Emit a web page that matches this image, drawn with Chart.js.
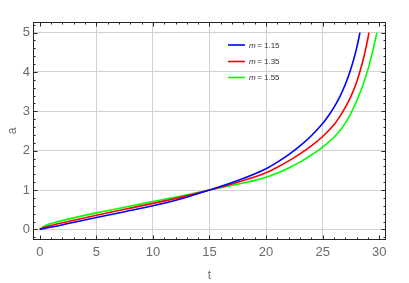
<!DOCTYPE html>
<html>
<head>
<meta charset="utf-8">
<script src="https://cdn.jsdelivr.net/npm/chart.js@4.4.1/dist/chart.umd.min.js"></script>
<style>
    html, body { margin: 0; padding: 0; background: #fff; }
    #wrap { width: 409px; height: 283px; position: relative; }
</style>
</head>
<body>
<div id="wrap"><canvas id="chart"></canvas></div>
<script>
// --- Data ---
const xTicks = [0, 5, 10, 15, 20, 25, 30];
const yTicks = [0, 1, 2, 3, 4, 5];

const t115 = [0, 0.5, 1.4, 2.5, 5, 7.5, 10, 12.5, 15, 17.5, 20, 21, 22, 23, 24, 25, 25.5, 26, 26.5, 27, 27.5, 28, 28.3];
const a115 = [0, 0.03, 0.08, 0.15, 0.30, 0.45, 0.60, 0.78, 1.0, 1.24, 1.54, 1.71, 1.9, 2.12, 2.38, 2.69, 2.88, 3.1, 3.36, 3.68, 4.08, 4.6, 5.0];

const t135 = [0, 0.5, 1.4, 2.5, 5, 7.5, 10, 12.5, 15, 17.5, 20, 21, 22, 23, 24, 25, 26, 26.5, 27, 27.5, 28, 28.5, 28.8, 29.1];
const a135 = [0, 0.06, 0.13, 0.2, 0.36, 0.51, 0.66, 0.82, 1.0, 1.2, 1.44, 1.58, 1.74, 1.92, 2.12, 2.36, 2.66, 2.86, 3.1, 3.38, 3.74, 4.22, 4.58, 5.0];

const t155 = [0, 0.5, 1.4, 2.5, 5, 7.5, 10, 12.5, 15, 16.5, 18, 19, 20, 21, 22, 23, 24, 25, 26, 26.5, 27, 27.5, 28, 28.5, 29, 29.4, 29.8];
const a155 = [0, 0.1, 0.18, 0.26, 0.42, 0.56, 0.71, 0.85, 1.0, 1.09, 1.18, 1.245, 1.325, 1.43, 1.56, 1.71, 1.89, 2.09, 2.34, 2.5, 2.7, 2.95, 3.26, 3.62, 4.06, 4.5, 5.0];

const seriesLabels = ['1.15', '1.35', '1.55'];
const seriesColors = ['#0000ff', '#ff0000', '#00ff00'];

const FONT = '"Liberation Sans", Arial, sans-serif';
const FRAME = '#262626';

const toPts = (ts, as) => ts.map((t, i) => ({ x: t, y: as[i] }));

// frame with inward ticks + in-plot legend (Mathematica style)
const framePlugin = {
    id: 'frame',
    afterDatasetsDraw(chart) {
        const { ctx, chartArea: ca, scales: { x, y } } = chart;
        ctx.save();
        ctx.strokeStyle = FRAME;
        ctx.lineWidth = 1;
        ctx.strokeRect(Math.round(ca.left) + 0.5, Math.round(ca.top) + 0.5,
            Math.round(ca.right - ca.left) - 1, Math.round(ca.bottom - ca.top) - 1);

        ctx.beginPath();
        // x ticks, every unit; majors on the multiples of 5
        for (let v = 0; v <= 30; v++) {
            const px = Math.round(x.getPixelForValue(v)) + 0.5;
            const len = v % 5 === 0 ? 4.5 : 2.5;
            ctx.moveTo(px, ca.bottom); ctx.lineTo(px, ca.bottom - len);
            ctx.moveTo(px, ca.top); ctx.lineTo(px, ca.top + len);
        }
        // y ticks, every 0.2
        for (let k = -1; k <= 26; k++) {
            const v = k / 5;
            const py = Math.round(y.getPixelForValue(v)) + 0.5;
            if (py < ca.top || py > ca.bottom) continue;
            const len = k % 5 === 0 ? 4.5 : 2.5;
            ctx.moveTo(ca.left, py); ctx.lineTo(ca.left + len, py);
            ctx.moveTo(ca.right, py); ctx.lineTo(ca.right - len, py);
        }
        ctx.stroke();

        // legend
        const rows = [45, 61.5, 77.5];
        rows.forEach((ry, i) => {
            ctx.strokeStyle = seriesColors[i];
            ctx.lineWidth = 1.6;
            ctx.beginPath();
            ctx.moveTo(228, ry); ctx.lineTo(245, ry);
            ctx.stroke();
            ctx.fillStyle = '#333';
            ctx.textBaseline = 'middle';
            ctx.font = 'italic 8px ' + FONT;
            ctx.fillText('m', 249, ry + 0.5);
            ctx.font = '8px ' + FONT;
            ctx.fillText('=', 257, ry + 0.5);
            ctx.fillText(seriesLabels[i], 264, ry + 0.5);
        });
        ctx.restore();
    }
};

const lineDataset = (ts, as, i) => ({
    label: 'm = ' + seriesLabels[i],
    data: toPts(ts, as),
    borderColor: seriesColors[i],
    borderWidth: 1.6,
    pointRadius: 0,
    fill: false,
    cubicInterpolationMode: 'monotone'
});

new Chart(document.getElementById('chart'), {
    type: 'line',
    data: {
        datasets: [
            lineDataset(t115, a115, 0),
            lineDataset(t135, a135, 1),
            lineDataset(t155, a155, 2)
        ]
    },
    options: {
        responsive: true,
        maintainAspectRatio: false,
        animation: false,
        layout: { padding: { left: 0, top: 22, right: 23, bottom: 0 } },
        plugins: {
            legend: { display: false },
            tooltip: { enabled: false }
        },
        scales: {
            x: {
                type: 'linear',
                min: -0.6,
                max: 30.6,
                afterBuildTicks: s => { s.ticks = xTicks.map(v => ({ value: v })); },
                afterFit: s => { s.height = 43; },
                border: { display: false },
                grid: {
                    drawTicks: false,
                    color: c => (c.tick && (c.tick.value === 0 || c.tick.value === 30)) ? 'rgba(0,0,0,0)' : '#d2d2d2'
                },
                ticks: { padding: 5, color: '#6b6b6b', font: { family: FONT, size: 13 }, maxRotation: 0 },
                title: { display: true, text: 't', color: '#6b6b6b', font: { family: FONT, size: 12 }, padding: { top: 0, bottom: 0 } }
            },
            y: {
                min: -0.27,
                max: 5.27,
                afterBuildTicks: s => { s.ticks = yTicks.map(v => ({ value: v })); },
                afterFit: s => { s.width = 33; },
                border: { display: false },
                grid: { drawTicks: false, color: '#d2d2d2' },
                ticks: { padding: 3, color: '#6b6b6b', font: { family: FONT, size: 13 } },
                title: { display: true, text: 'a', color: '#6b6b6b', font: { family: FONT, size: 12 }, padding: { top: 5, bottom: 0 } }
            }
        }
    },
    plugins: [framePlugin]
});
</script>
</body>
</html>
